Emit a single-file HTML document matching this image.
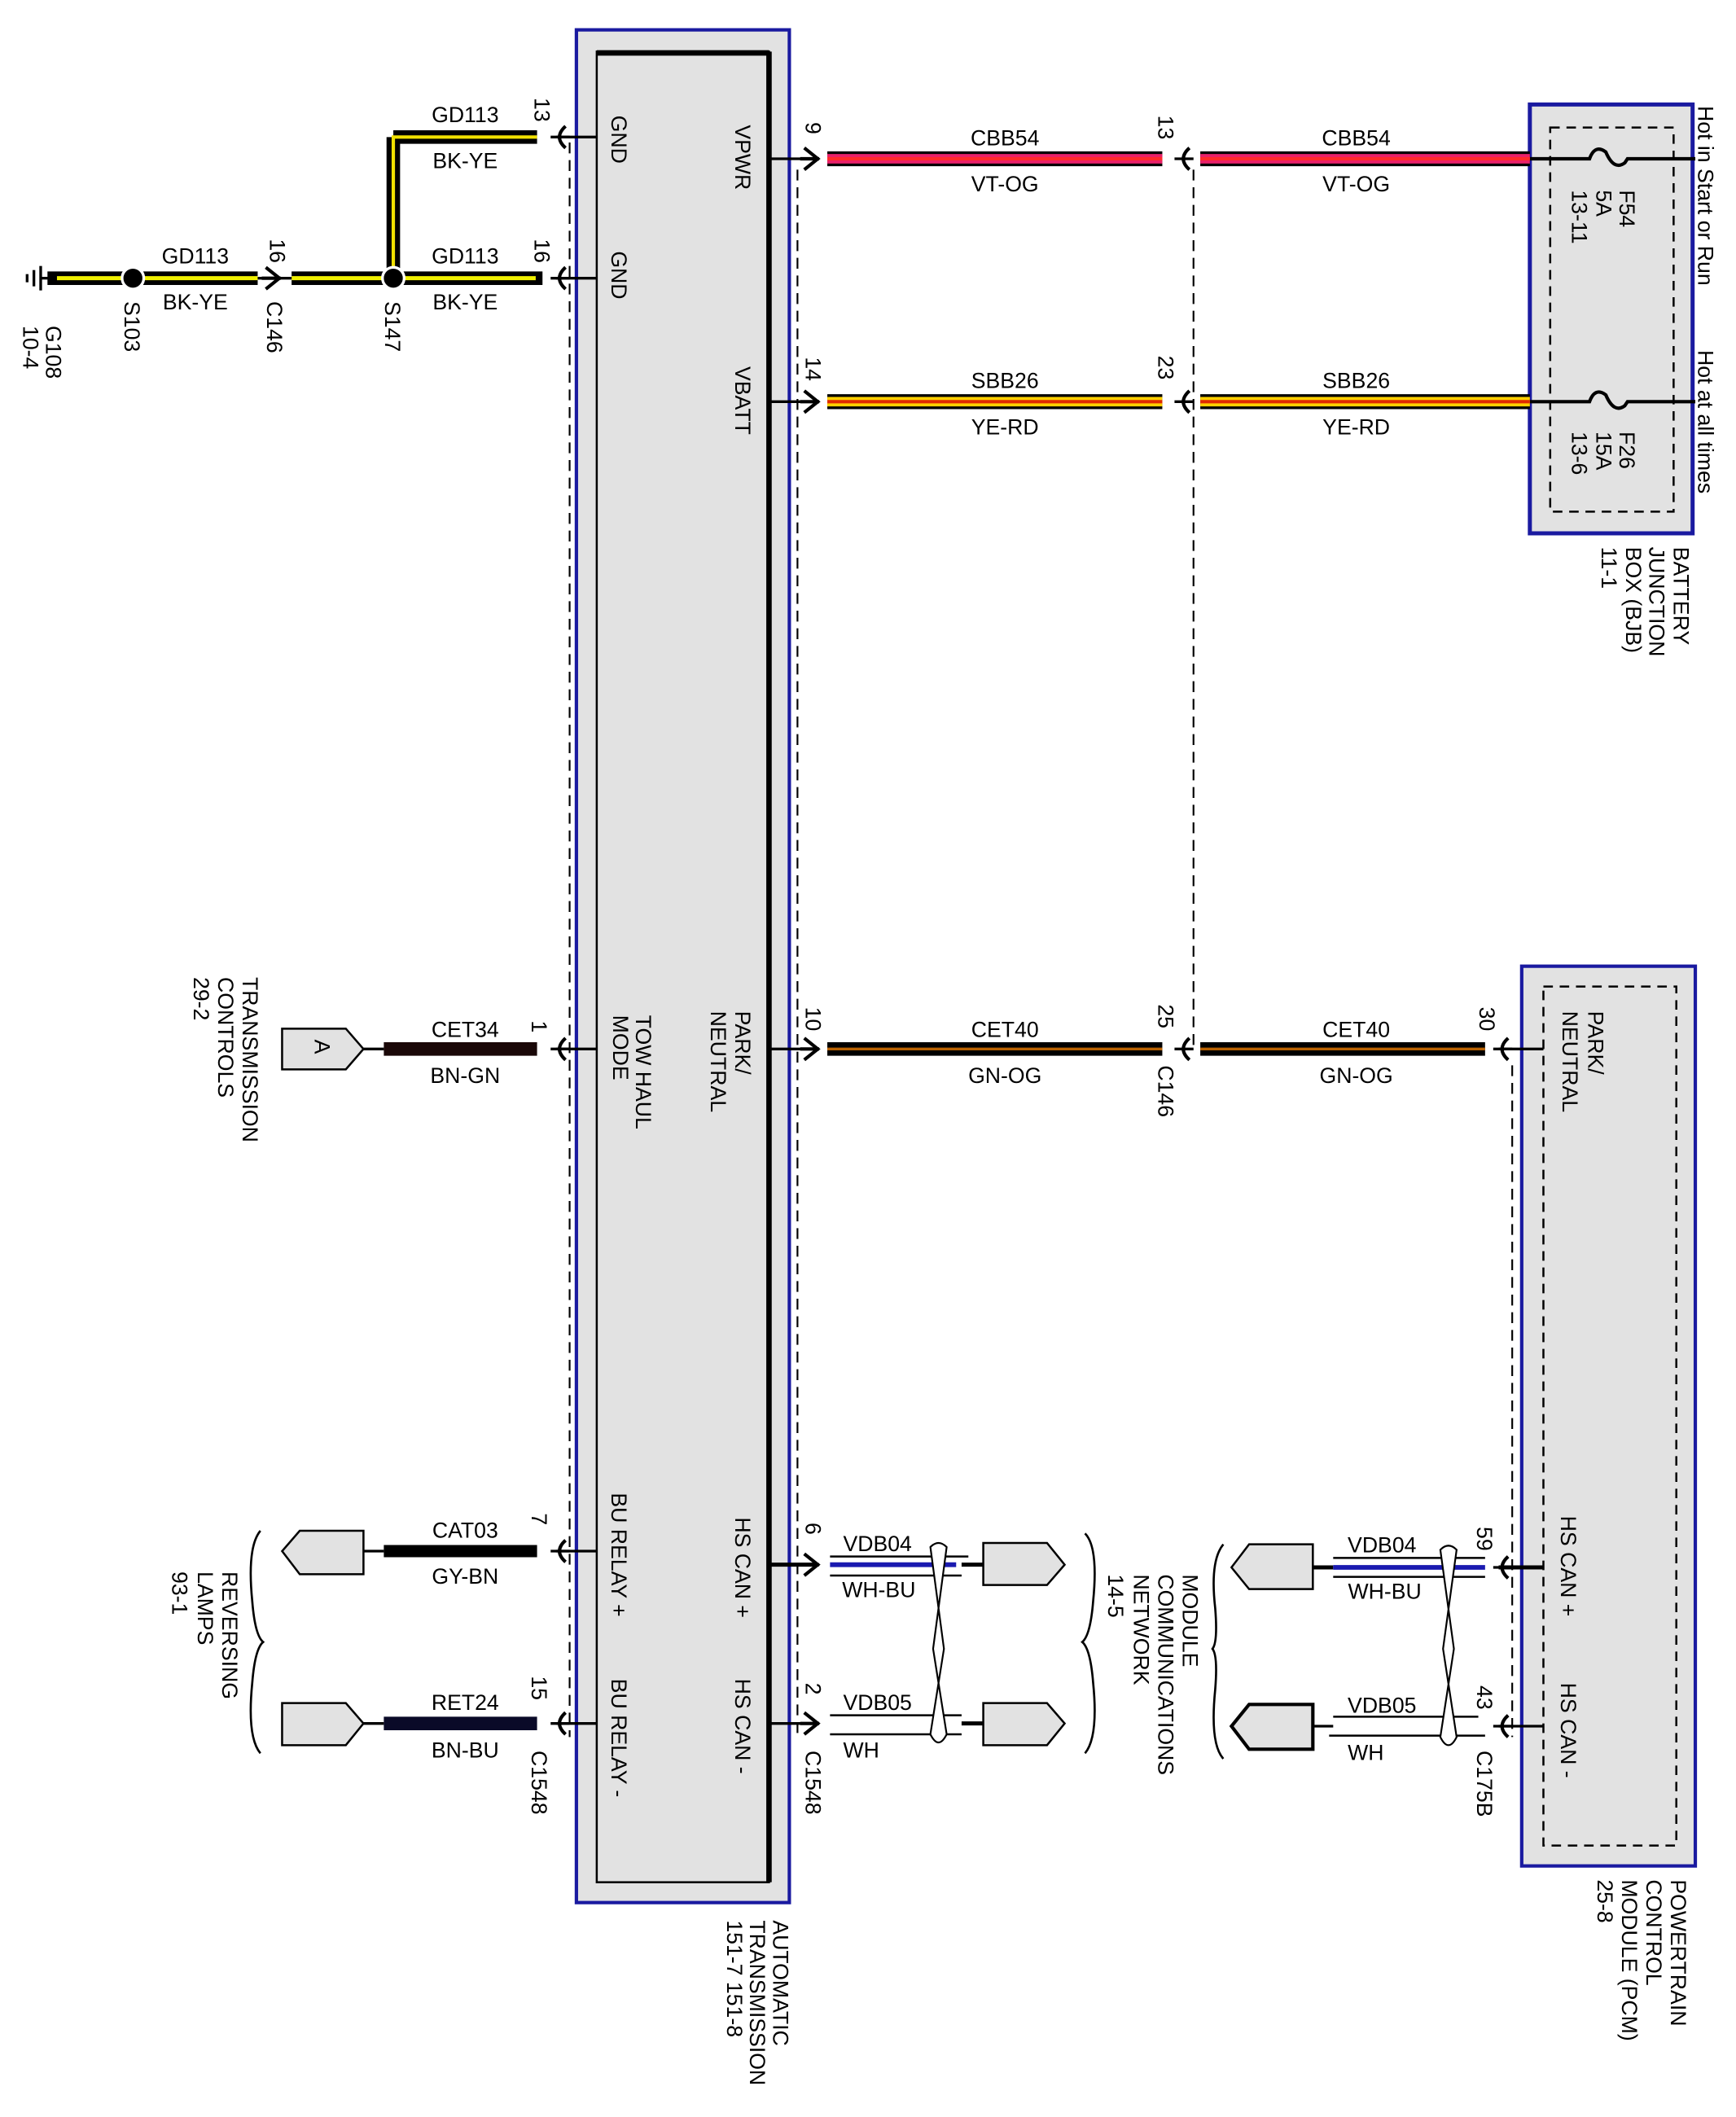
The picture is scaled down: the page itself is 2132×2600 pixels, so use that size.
<!DOCTYPE html>
<html><head><meta charset="utf-8"><style>
html,body{margin:0;padding:0;background:#fff}
svg{display:block}
text{font-family:"Liberation Sans",sans-serif;font-size:16px;fill:#000}
</style></head><body>
<svg width="2132" height="2600" viewBox="0 0 1280 1560" preserveAspectRatio="none" xmlns="http://www.w3.org/2000/svg">
<defs>
<g id="arR"><path d="M-9,-8 L1,0 L-9,8" fill="none" stroke="#000" stroke-width="2.5"/><line x1="-12" y1="0" x2="2" y2="0" stroke="#000" stroke-width="2.5"/></g>
<g id="arL"><path d="M9,-8 Q0,0 9,8" fill="none" stroke="#000" stroke-width="2.5"/><line x1="-2" y1="0" x2="12" y2="0" stroke="#000" stroke-width="2"/></g>
</defs>

<!-- ATM module -->
<rect x="425" y="22" width="157" height="1380" fill="#e2e2e2" stroke="#1a1aa0" stroke-width="2.5"/>
<rect x="440" y="38" width="127" height="1349" fill="#e2e2e2" stroke="#000" stroke-width="1.5"/>
<line x1="440" y1="39" x2="567" y2="39" stroke="#000" stroke-width="4"/>
<line x1="567" y1="38" x2="567" y2="1387" stroke="#000" stroke-width="4"/>

<!-- dashed lines -->
<g stroke="#000" stroke-width="1.3" stroke-dasharray="8,5" fill="none">
<line x1="420" y1="105" x2="420" y2="1280"/>
<line x1="588" y1="125" x2="588" y2="1280"/>
<line x1="880" y1="125" x2="880" y2="770"/>
<line x1="1115" y1="785" x2="1115" y2="1280"/>
</g>

<!-- BJB -->
<rect x="1128" y="77" width="120" height="316" fill="#e2e2e2" stroke="#1a1aa0" stroke-width="3"/>
<rect x="1143" y="94" width="91" height="283" fill="none" stroke="#000" stroke-width="1.5" stroke-dasharray="7,5"/>
<g stroke="#000" stroke-width="2.5" fill="none">
<path d="M1128,117 H1172 Q1176,106 1184,112 Q1190,126 1198,120 L1200,117 H1250"/>
<path d="M1128,296 H1172 Q1176,285 1184,291 Q1190,305 1198,299 L1200,296 H1250"/>
</g>

<!-- PCM -->
<rect x="1122" y="712" width="128" height="663" fill="#e2e2e2" stroke="#1a1aa0" stroke-width="2.5"/>
<rect x="1138" y="727" width="98" height="633" fill="none" stroke="#000" stroke-width="1.5" stroke-dasharray="7,5"/>

<!-- stub lines from modules -->
<g stroke="#000" stroke-width="2">
<line x1="410" y1="101" x2="440" y2="101"/>
<line x1="410" y1="205" x2="440" y2="205"/>
<line x1="410" y1="773" x2="440" y2="773"/>
<line x1="410" y1="1143" x2="440" y2="1143"/>
<line x1="410" y1="1270" x2="440" y2="1270"/>
<line x1="567" y1="117" x2="600" y2="117"/>
<line x1="567" y1="296" x2="600" y2="296"/>
<line x1="567" y1="773" x2="600" y2="773"/>
<line x1="567" y1="1153" x2="600" y2="1153" stroke-width="3"/>
<line x1="567" y1="1270" x2="600" y2="1270"/>
<line x1="1105" y1="773" x2="1138" y2="773"/>
<line x1="1105" y1="1155" x2="1138" y2="1155" stroke-width="3"/>
<line x1="1105" y1="1272" x2="1138" y2="1272"/>
</g>

<!-- arrows -->
<use href="#arL" x="408" y="101"/>
<use href="#arL" x="408" y="205"/>
<use href="#arL" x="408" y="773"/>
<use href="#arL" x="408" y="1143"/>
<use href="#arL" x="408" y="1270"/>
<use href="#arR" x="602" y="117"/>
<use href="#arR" x="602" y="296"/>
<use href="#arR" x="602" y="773"/>
<use href="#arR" x="602" y="1153"/>
<use href="#arR" x="602" y="1270"/>
<use href="#arL" x="868" y="117"/>
<use href="#arL" x="868" y="296"/>
<use href="#arL" x="868" y="773"/>
<use href="#arL" x="1103" y="773"/>
<use href="#arL" x="1103" y="1155"/>
<use href="#arL" x="1103" y="1272"/>
<use href="#arR" x="205" y="205"/>

<!-- right-side wires -->
<g>
<line x1="610" y1="117" x2="857" y2="117" stroke="#000" stroke-width="11"/>
<line x1="610" y1="117" x2="857" y2="117" stroke="#e8206a" stroke-width="7"/>
<line x1="610" y1="117" x2="857" y2="117" stroke="#ff2a2a" stroke-width="2.5"/>
<line x1="885" y1="117" x2="1128" y2="117" stroke="#000" stroke-width="11"/>
<line x1="885" y1="117" x2="1128" y2="117" stroke="#e8206a" stroke-width="7"/>
<line x1="885" y1="117" x2="1128" y2="117" stroke="#ff2a2a" stroke-width="2.5"/>

<line x1="610" y1="296" x2="857" y2="296" stroke="#000" stroke-width="11"/>
<line x1="610" y1="296" x2="857" y2="296" stroke="#ffd000" stroke-width="7"/>
<line x1="610" y1="296" x2="857" y2="296" stroke="#e02a00" stroke-width="2.5"/>
<line x1="885" y1="296" x2="1128" y2="296" stroke="#000" stroke-width="11"/>
<line x1="885" y1="296" x2="1128" y2="296" stroke="#ffd000" stroke-width="7"/>
<line x1="885" y1="296" x2="1128" y2="296" stroke="#e02a00" stroke-width="2.5"/>

<line x1="610" y1="773" x2="857" y2="773" stroke="#000" stroke-width="10"/>
<line x1="610" y1="773" x2="857" y2="773" stroke="#b86000" stroke-width="2"/>
<line x1="885" y1="773" x2="1095" y2="773" stroke="#000" stroke-width="10"/>
<line x1="885" y1="773" x2="1095" y2="773" stroke="#b86000" stroke-width="2"/>
</g>

<!-- left ground wires -->
<g>
<line x1="290" y1="205" x2="290" y2="101" stroke="#000" stroke-width="10"/>
<line x1="290" y1="101" x2="396" y2="101" stroke="#000" stroke-width="10"/>
<path d="M290,205 V101 H396" fill="none" stroke="#f0e000" stroke-width="2.5"/>
<line x1="35" y1="205" x2="190" y2="205" stroke="#000" stroke-width="10"/>
<line x1="42" y1="205" x2="190" y2="205" stroke="#f0f000" stroke-width="3"/>
<line x1="215" y1="205" x2="400" y2="205" stroke="#000" stroke-width="10"/>
<line x1="215" y1="205" x2="395" y2="205" stroke="#f0f000" stroke-width="3"/>
<line x1="190" y1="205" x2="215" y2="205" stroke="#000" stroke-width="2"/>
<circle cx="98" cy="205" r="8" fill="#000" stroke="#fff" stroke-width="2"/>
<circle cx="290" cy="205" r="8" fill="#000" stroke="#fff" stroke-width="2"/>
<g stroke="#000" stroke-width="2"><line x1="30" y1="196" x2="30" y2="214"/><line x1="25" y1="199" x2="25" y2="211"/><line x1="20" y1="202" x2="20" y2="208"/><line x1="30" y1="205" x2="38" y2="205"/></g>
</g>

<!-- left small wires -->
<line x1="283" y1="773" x2="396" y2="773" stroke="#1a0808" stroke-width="10"/>
<line x1="283" y1="1143" x2="396" y2="1143" stroke="#000" stroke-width="9"/>
<line x1="283" y1="1270" x2="396" y2="1270" stroke="#0a0a28" stroke-width="10"/>
<line x1="268" y1="773" x2="283" y2="773" stroke="#000" stroke-width="2"/>
<line x1="268" y1="1143" x2="283" y2="1143" stroke="#000" stroke-width="2"/>
<line x1="268" y1="1270" x2="283" y2="1270" stroke="#000" stroke-width="2"/>
<g fill="#e2e2e2" stroke="#000" stroke-width="1.5">
<polygon points="208,758 255,758 268,773 255,788 208,788"/>
<polygon points="268,1128 221,1128 208,1143 221,1160 268,1160"/>
<polygon points="208,1255 255,1255 268,1270 255,1286 208,1286"/>
<polygon points="725,1137 772,1137 785,1153 772,1168 725,1168"/>
<polygon points="725,1255 772,1255 785,1270 772,1286 725,1286"/>
<polygon points="968,1138 921,1138 908,1155 921,1171 968,1171"/>
<polygon points="968,1256 921,1256 908,1272 921,1289 968,1289" stroke-width="2.5"/>
</g>

<!-- CAN wires -->
<g stroke="#000" stroke-width="1.5">
<line x1="612" y1="1147" x2="714" y2="1147"/>
<line x1="612" y1="1161" x2="709" y2="1161"/>
<line x1="612" y1="1264" x2="709" y2="1264"/>
<line x1="612" y1="1278" x2="709" y2="1278"/>
<line x1="983" y1="1148" x2="1095" y2="1148"/>
<line x1="983" y1="1162" x2="1095" y2="1162"/>
<line x1="983" y1="1265" x2="1090" y2="1265"/>
<line x1="980" y1="1279" x2="1095" y2="1279"/>
<line x1="709" y1="1153" x2="725" y2="1153" stroke-width="3"/>
<line x1="709" y1="1270" x2="725" y2="1270" stroke-width="3"/>
<line x1="968" y1="1155" x2="983" y2="1155" stroke-width="3"/>
<line x1="968" y1="1272" x2="983" y2="1272" stroke-width="2"/>
</g>
<line x1="612" y1="1153" x2="705" y2="1153" stroke="#1a1ab0" stroke-width="3.5"/>
<line x1="983" y1="1155" x2="1095" y2="1155" stroke="#1a1ab0" stroke-width="3.5"/>
<g fill="none" stroke="#000" stroke-width="1.3">
<path d="M686,1140 Q692,1134 698,1140 L688,1215 L698,1278 Q692,1290 686,1278 L696,1215 Z" fill="#fff"/>
<path d="M1062,1142 Q1068,1136 1074,1142 L1064,1215 L1074,1280 Q1068,1292 1062,1280 L1072,1215 Z" fill="#fff"/>
<!-- braces -->
<path d="M192,1128 Q182,1140 186,1180 Q188,1205 194,1210 Q188,1215 186,1240 Q182,1280 192,1292" stroke-width="1.6"/>
<path d="M800,1130 Q810,1140 806,1180 Q804,1205 798,1210 Q804,1215 806,1240 Q810,1280 800,1292" stroke-width="1.6"/>
<path d="M902,1138 Q892,1150 896,1185 Q898,1210 894,1215 Q898,1220 896,1245 Q892,1285 902,1296" stroke-width="1.6"/>
</g>

<!-- horizontal labels -->
<g text-anchor="middle">
<text x="343" y="90">GD113</text><text x="343" y="124">BK-YE</text>
<text x="343" y="194">GD113</text><text x="343" y="228">BK-YE</text>
<text x="144" y="194">GD113</text><text x="144" y="228">BK-YE</text>
<text x="741" y="107">CBB54</text><text x="741" y="141">VT-OG</text>
<text x="1000" y="107">CBB54</text><text x="1000" y="141">VT-OG</text>
<text x="741" y="286">SBB26</text><text x="741" y="320">YE-RD</text>
<text x="1000" y="286">SBB26</text><text x="1000" y="320">YE-RD</text>
<text x="741" y="764">CET40</text><text x="741" y="798">GN-OG</text>
<text x="1000" y="764">CET40</text><text x="1000" y="798">GN-OG</text>
<text x="343" y="764">CET34</text><text x="343" y="798">BN-GN</text>
<text x="343" y="1133">CAT03</text><text x="343" y="1167">GY-BN</text>
<text x="343" y="1260">RET24</text><text x="343" y="1295">BN-BU</text>
<text x="647" y="1143">VDB04</text><text x="648" y="1177">WH-BU</text>
<text x="647" y="1260">VDB05</text><text x="635" y="1295">WH</text>
<text x="1019" y="1144">VDB04</text><text x="1021" y="1178">WH-BU</text>
<text x="1019" y="1262">VDB05</text><text x="1007" y="1297">WH</text>
</g>

<!-- vertical labels (rotated) -->
<g>
<text transform="translate(394,72) rotate(90)">13</text>
<text transform="translate(394,176) rotate(90)">16</text>
<text transform="translate(199,176) rotate(90)">16</text>
<text transform="translate(92,222) rotate(90)">S103</text>
<text transform="translate(197,222) rotate(90)">C146</text>
<text transform="translate(284,222) rotate(90)">S147</text>
<text transform="translate(34,240) rotate(90)">G108</text>
<text transform="translate(17,240) rotate(90)">10-4</text>

<text transform="translate(451,85) rotate(90)">GND</text>
<text transform="translate(451,185) rotate(90)">GND</text>
<text transform="translate(542,92) rotate(90)">VPWR</text>
<text transform="translate(542,270) rotate(90)">VBATT</text>
<text transform="translate(542,745) rotate(90)">PARK/</text>
<text transform="translate(524,745) rotate(90)">NEUTRAL</text>
<text transform="translate(469,748) rotate(90)">TOW HAUL</text>
<text transform="translate(452,748) rotate(90)">MODE</text>
<text transform="translate(451,1100) rotate(90)">BU RELAY +</text>
<text transform="translate(451,1237) rotate(90)">BU RELAY -</text>
<text transform="translate(542,1118) rotate(90)">HS CAN +</text>
<text transform="translate(542,1237) rotate(90)">HS CAN -</text>

<text transform="translate(594,90) rotate(90)">9</text>
<text transform="translate(594,263) rotate(90)">14</text>
<text transform="translate(594,742) rotate(90)">10</text>
<text transform="translate(594,1122) rotate(90)">6</text>
<text transform="translate(594,1240) rotate(90)">2</text>
<text transform="translate(594,1290) rotate(90)">C1548</text>
<text transform="translate(854,85) rotate(90)">13</text>
<text transform="translate(854,262) rotate(90)">23</text>
<text transform="translate(854,740) rotate(90)">25</text>
<text transform="translate(854,785) rotate(90)">C146</text>
<text transform="translate(1091,742) rotate(90)">30</text>
<text transform="translate(1089,1125) rotate(90)">59</text>
<text transform="translate(1089,1242) rotate(90)">43</text>
<text transform="translate(1089,1290) rotate(90)">C175B</text>
<text transform="translate(392,752) rotate(90)">1</text>
<text transform="translate(392,1115) rotate(90)">7</text>
<text transform="translate(392,1235) rotate(90)">15</text>
<text transform="translate(392,1290) rotate(90)">C1548</text>

<text transform="translate(1171,745) rotate(90)">PARK/</text>
<text transform="translate(1152,745) rotate(90)">NEUTRAL</text>
<text transform="translate(1151,1117) rotate(90)">HS CAN +</text>
<text transform="translate(1151,1240) rotate(90)">HS CAN -</text>

<text transform="translate(1194,140) rotate(90)">F54</text>
<text transform="translate(1177,140) rotate(90)">5A</text>
<text transform="translate(1159,140) rotate(90)">13-11</text>
<text transform="translate(1194,318) rotate(90)">F26</text>
<text transform="translate(1177,318) rotate(90)">15A</text>
<text transform="translate(1159,318) rotate(90)">13-6</text>
<text transform="translate(1252,78) rotate(90)">Hot in Start or Run</text>
<text transform="translate(1252,258) rotate(90)">Hot at all times</text>

<text transform="translate(1234,403) rotate(90)">BATTERY</text>
<text transform="translate(1216,403) rotate(90)">JUNCTION</text>
<text transform="translate(1199,403) rotate(90)">BOX (BJB)</text>
<text transform="translate(1181,403) rotate(90)">11-1</text>

<text transform="translate(1232,1385) rotate(90)">POWERTRAIN</text>
<text transform="translate(1214,1385) rotate(90)">CONTROL</text>
<text transform="translate(1196,1385) rotate(90)">MODULE (PCM)</text>
<text transform="translate(1178,1385) rotate(90)">25-8</text>

<text transform="translate(570,1415) rotate(90)">AUTOMATIC</text>
<text transform="translate(553,1415) rotate(90)">TRANSMISSION</text>
<text transform="translate(536,1415) rotate(90)">151-7   151-8</text>

<text transform="translate(179,720) rotate(90)">TRANSMISSION</text>
<text transform="translate(161,720) rotate(90)">CONTROLS</text>
<text transform="translate(143,720) rotate(90)">29-2</text>
<text transform="translate(232,766) rotate(90)">A</text>

<text transform="translate(164,1158) rotate(90)">REVERSING</text>
<text transform="translate(146,1158) rotate(90)">LAMPS</text>
<text transform="translate(127,1158) rotate(90)">93-1</text>

<text transform="translate(872,1160) rotate(90)">MODULE</text>
<text transform="translate(854,1160) rotate(90)">COMMUNICATIONS</text>
<text transform="translate(836,1160) rotate(90)">NETWORK</text>
<text transform="translate(817,1160) rotate(90)">14-5</text>
</g>
</svg>
</body></html>
